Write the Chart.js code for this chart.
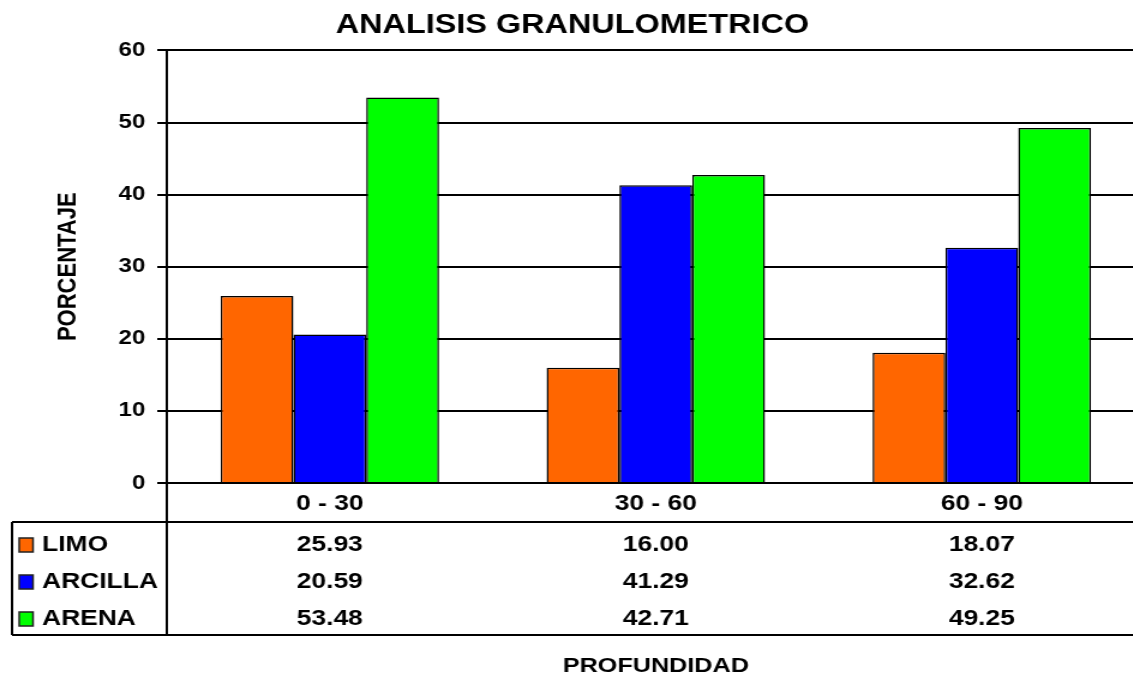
<!DOCTYPE html>
<html lang="es">
<head>
  <meta charset="UTF-8">
  <title>Analisis Granulometrico</title>
  <script src="https://cdn.jsdelivr.net/npm/chart.js"></script>
  <style>
    body { margin: 0; background: #fff; overflow: hidden; }
    /* el grafico original esta algo estirado a lo ancho */
    #caja { width: 967px; height: 677px; transform: scaleX(1.2); transform-origin: 0 0; }
  </style>
</head>
<body>
  <div id="caja">
    <canvas id="grafico" width="967" height="677"></canvas>
  </div>

<script>
var profundidades = ['0 - 30', '30 - 60', '60 - 90'];
var limo = [25.93, 16.00, 18.07];
var arcilla = [20.59, 41.29, 32.62];
var arena = [53.48, 42.71, 49.25];
var ticksY = [0, 10, 20, 30, 40, 50, 60];

var fuente = '"Liberation Sans", Arial, sans-serif';

// tabla de datos debajo del eje x (leyenda + valores)
const tablaDatos = {
  id: 'tablaDatos',
  afterDraw(chart) {
    const ctx = chart.ctx;
    const area = chart.chartArea;
    const escalaX = chart.scales.x;
    const base = area.bottom;
    const ancho = chart.width;

    ctx.save();
    ctx.strokeStyle = '#000';
    ctx.lineWidth = 2;
    ctx.beginPath();
    ctx.moveTo(10, base + 39); ctx.lineTo(ancho, base + 39);
    ctx.moveTo(10, base + 152); ctx.lineTo(ancho, base + 152);
    ctx.moveTo(10, base + 39); ctx.lineTo(10, base + 152);
    ctx.moveTo(area.left, base); ctx.lineTo(area.left, base + 152);
    ctx.stroke();

    ctx.font = 'bold 22px ' + fuente;
    ctx.textBaseline = 'middle';
    chart.data.datasets.forEach(function (ds, i) {
      var y = base + 62 + i * 37;
      ctx.fillStyle = ds.backgroundColor;
      ctx.fillRect(16, y - 7, 11.5, 14);
      ctx.lineWidth = 1.5;
      ctx.strokeStyle = '#222';
      ctx.strokeRect(16, y - 7, 11.5, 14);

      ctx.fillStyle = '#000';
      ctx.textAlign = 'left';
      ctx.fillText(ds.label, 35, y);
      ctx.textAlign = 'center';
      ds.data.forEach(function (v, j) {
        ctx.fillText(v.toFixed(2), escalaX.getPixelForValue(j), y);
      });
    });
    ctx.restore();
  }
};

let dados = {
  labels: profundidades,
  datasets: [
    { label: 'LIMO', data: limo, backgroundColor: '#FF6600' },
    { label: 'ARCILLA', data: arcilla, backgroundColor: '#0000FF' },
    { label: 'ARENA', data: arena, backgroundColor: '#00FF00' }
  ]
};
dados.datasets.forEach(function (ds) {
  ds.borderColor = '#000';
  ds.borderWidth = 1.5;
  ds.categoryPercentage = 0.67;
  ds.barPercentage = 1.0;
});

const config = {
  type: 'bar',
  data: dados,
  plugins: [tablaDatos],
  options: {
    responsive: false,
    animation: false,
    devicePixelRatio: 1,
    layout: { padding: { left: 0, right: 13, top: 0, bottom: 0 } },
    plugins: {
      legend: { display: false },
      tooltip: { enabled: false },
      title: {
        display: true,
        text: 'ANALISIS GRANULOMETRICO',
        color: '#000',
        font: { family: fuente, size: 27, weight: 'bold', lineHeight: 1.2 },
        padding: { top: 9, bottom: 9 }
      }
    },
    scales: {
      x: {
        grid: { display: false, drawTicks: false },
        border: { display: false },
        ticks: {
          color: '#000',
          padding: 8,
          font: { family: fuente, size: 22, weight: 'bold' }
        },
        title: {
          display: true,
          text: 'PROFUNDIDAD',
          color: '#000',
          font: { family: fuente, size: 21, weight: 'bold', lineHeight: 1 },
          padding: { top: 0, bottom: 0 }
        },
        afterFit: function (scale) { scale.height = 194; }
      },
      y: {
        min: 0,
        max: 60,
        afterBuildTicks: function (scale) {
          scale.ticks = ticksY.map(function (v) { return { value: v }; });
        },
        grid: { color: '#000', lineWidth: 2, tickLength: 8 },
        border: { color: '#000', width: 2 },
        ticks: {
          color: '#000',
          padding: 10,
          font: { family: fuente, size: 20, weight: 'bold' }
        },
        title: {
          display: true,
          text: 'PORCENTAJE',
          color: '#000',
          font: { family: fuente, size: 22, weight: 'bold' },
          padding: { top: 44, bottom: 0 }
        },
        afterFit: function (scale) { scale.width = 139; }
      }
    }
  }
};

let myChart = new Chart(document.getElementById('grafico'), config);
</script>
</body>
</html>
